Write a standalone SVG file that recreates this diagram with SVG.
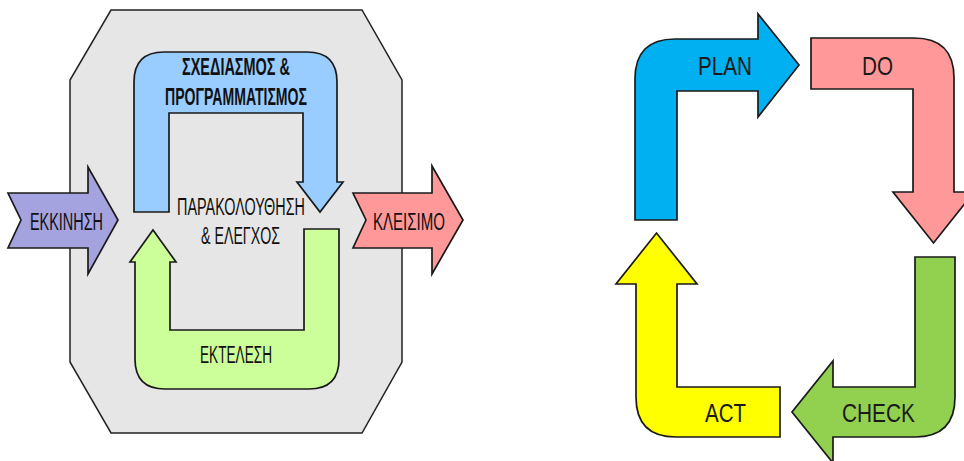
<svg xmlns="http://www.w3.org/2000/svg" width="964" height="461" viewBox="0 0 964 461">
  <style>
    .shape { stroke: #1a1a1a; stroke-width: 1.7; stroke-linejoin: miter; }
    .frame { fill: #e6e6e6; stroke: #222; stroke-width: 1.5; }
    .lbl { font-family: "Liberation Sans", Arial, sans-serif; font-size: 23.5px; fill: #111; }
    .lblb { font-family: "Liberation Sans", Arial, sans-serif; font-size: 23.5px; font-weight: bold; fill: #111; }
    .pdca { font-family: "Liberation Sans", Arial, sans-serif; font-size: 25px; fill: #1a1a1a; }
  </style>

  <rect width="964" height="461" fill="#ffffff"/>

  <!-- Project life cycle -->
  <g id="frame">
    <path class="frame" d="M111,10 L362,10 L402,80 L402,362 L362,433 L111,433 L70,362 L70,80 Z"/>
  </g>

  <g id="planning">
    <path class="shape" fill="#99ccff" d="M134,212 L134,82 Q134,52 164,52 L307,52 Q337,52 337,82 L337,182 L343,182 L320,212 L297,182 L303,182 L303,113 L169,113 L169,212 Z"/>
    <text class="lblb" x="236" y="75" text-anchor="middle" textLength="108" lengthAdjust="spacingAndGlyphs">ΣΧΕΔΙΑΣΜΟΣ &amp;</text>
    <text class="lblb" x="236" y="105" text-anchor="middle" textLength="142" lengthAdjust="spacingAndGlyphs">ΠΡΟΓΡΑΜΜΑΤΙΣΜΟΣ</text>
  </g>

  <g id="execution">
    <path class="shape" fill="#ccff99" d="M304,229 L339,229 L339,359 Q339,389 309,389 L165,389 Q135,389 135,359 L135,262 L130,262 L153,230 L176,262 L170,262 L170,330 L304,330 Z"/>
    <text class="lbl" x="236" y="363" text-anchor="middle" textLength="72" lengthAdjust="spacingAndGlyphs">ΕΚΤΕΛΕΣΗ</text>
  </g>

  <g id="monitoring">
    <text class="lbl" x="241" y="215" text-anchor="middle" textLength="128" lengthAdjust="spacingAndGlyphs">ΠΑΡΑΚΟΛΟΥΘΗΣΗ</text>
    <text class="lbl" x="240.5" y="244" text-anchor="middle" textLength="79" lengthAdjust="spacingAndGlyphs">&amp; ΕΛΕΓΧΟΣ</text>
  </g>

  <g id="start">
    <path class="shape" fill="#a5a3df" d="M8,193 L88,193 L88,167 L118,220 L88,274 L88,248 L8,248 L21,220 Z"/>
    <text class="lbl" x="66.5" y="230" text-anchor="middle" textLength="73" lengthAdjust="spacingAndGlyphs">ΕΚΚΙΝΗΣΗ</text>
  </g>

  <g id="closing">
    <path class="shape" fill="#ff9999" d="M353,193 L432,193 L432,166 L463,220 L432,274 L432,248 L353,248 L366,220 Z"/>
    <text class="lbl" x="409" y="230" text-anchor="middle" textLength="72" lengthAdjust="spacingAndGlyphs">ΚΛΕΙΣΙΜΟ</text>
  </g>

  <!-- PDCA cycle -->
  <g id="plan">
    <path class="shape" fill="#00b0f0" d="M635,220 L635,79 Q635,39 675,39 L758,39 L758,14 L799,65 L758,117 L758,91 L677,91 L677,220 Z"/>
    <text class="pdca" x="725" y="75" text-anchor="middle" textLength="54" lengthAdjust="spacingAndGlyphs">PLAN</text>
  </g>

  <g id="do">
    <path class="shape" fill="#ff9999" d="M811,38 L914,38 Q954,38 954,78 L954,192 L974,192 L933.5,243 L893,192 L913,192 L913,89 L811,89 Z"/>
    <text class="pdca" x="877.5" y="75" text-anchor="middle" textLength="31" lengthAdjust="spacingAndGlyphs">DO</text>
  </g>

  <g id="check">
    <path class="shape" fill="#92d050" d="M915,257 L955,257 L955,397 Q955,437 915,437 L833,437 L833,463 L792,412 L833,361 L833,387 L915,387 Z"/>
    <text class="pdca" x="878.5" y="422" text-anchor="middle" textLength="73" lengthAdjust="spacingAndGlyphs">CHECK</text>
  </g>

  <g id="act">
    <path class="shape" fill="#ffff00" d="M780,387 L780,437 L676,437 Q636,437 636,397 L636,284 L616,284 L656.5,233 L697,284 L677,284 L677,387 Z"/>
    <text class="pdca" x="725.5" y="422" text-anchor="middle" textLength="41" lengthAdjust="spacingAndGlyphs">ACT</text>
  </g>
</svg>
